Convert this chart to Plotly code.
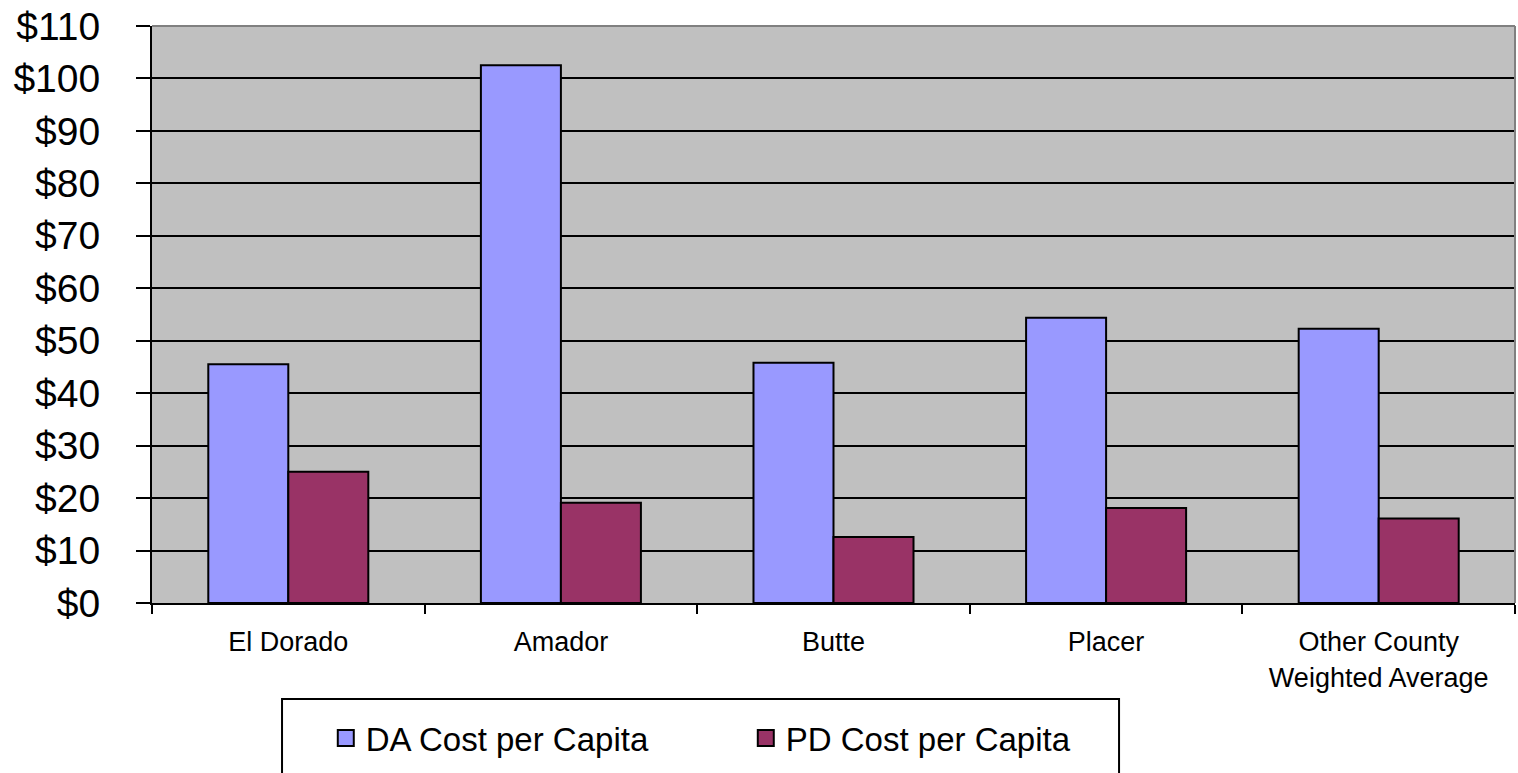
import plotly.graph_objects as go

categories = ["El Dorado", "Amador", "Butte", "Placer", "Other County<br>Weighted Average"]
da_cost = [45.5, 102.5, 45.8, 54.4, 52.3]
pd_cost = [25.0, 19.1, 12.6, 18.1, 16.1]
series_names = ["DA Cost per Capita", "PD Cost per Capita"]
series_colors = ["#9999FF", "#993366"]
y_tick_vals = list(range(0, 111, 10))
y_tick_text = ["$" + str(v) for v in y_tick_vals]

FONT = "Liberation Sans, Arial, sans-serif"

fig = go.Figure()
for vals, name, col in zip([da_cost, pd_cost], series_names, series_colors):
    fig.add_trace(go.Bar(x=categories, y=vals, name=name, showlegend=False,
                         marker=dict(color=col, line=dict(color="black", width=2))))
# legend-only entries with larger square swatches
for name, col in zip(series_names, series_colors):
    fig.add_trace(go.Scatter(x=[None], y=[None], name=name, mode="markers",
                             marker=dict(symbol="square", size=16, color=col,
                                         line=dict(color="black", width=2))))

fig.update_layout(
    width=1518, height=773,
    margin=dict(l=152, r=3, t=26, b=170),
    paper_bgcolor="white", plot_bgcolor="#C0C0C0",
    barmode="group", bargap=0.413, bargroupgap=0,
    font=dict(family=FONT, color="black"),
    showlegend=True,
    legend=dict(orientation="h", x=0.1275, xanchor="left", y=-0.234, yanchor="middle",
                font=dict(size=33, family=FONT), entrywidth=375, entrywidthmode="pixels",
                bgcolor="rgba(0,0,0,0)", borderwidth=0, itemsizing="trace"),
    xaxis=dict(showline=True, linecolor="black", linewidth=2, ticks="outside",
               tickson="boundaries", ticklen=9, tickwidth=2, tickcolor="black",
               tickfont=dict(size=27, family=FONT), ticklabelstandoff=14, showgrid=False),
    yaxis=dict(range=[0, 110], tickvals=y_tick_vals, ticktext=y_tick_text,
               showline=True, linecolor="black", linewidth=2, ticks="outside",
               ticklen=14, tickwidth=2, tickcolor="black",
               tickfont=dict(size=39, family=FONT), ticklabelstandoff=28,
               showgrid=True, gridcolor="black", gridwidth=2, zeroline=False),
    shapes=[
        dict(type="line", xref="paper", yref="paper", x0=0, x1=1, y0=1, y1=1,
             line=dict(color="#808080", width=2), layer="above"),
        dict(type="line", xref="paper", yref="paper", x0=1, x1=1, y0=0, y1=1,
             line=dict(color="#808080", width=2), layer="above"),
        dict(type="rect", xref="paper", yref="paper", x0=0.0954, x1=0.7095,
             y0=-0.1664, y1=-0.32, line=dict(color="black", width=2),
             fillcolor="rgba(0,0,0,0)"),
    ],
)

fig.write_html("out.html", config={"displayModeBar": False},
               post_script="document.body.style.margin='0';document.body.style.overflow='hidden';")
